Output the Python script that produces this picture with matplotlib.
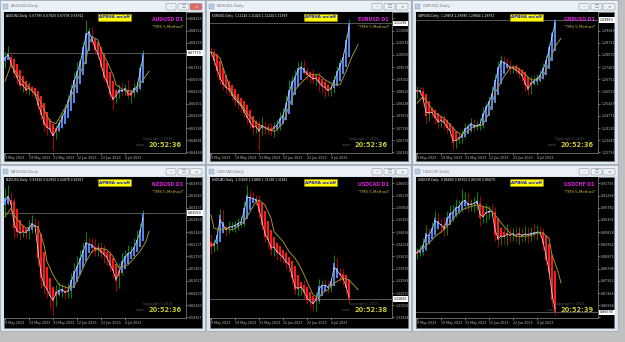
import numpy as np
import matplotlib
matplotlib.use("Agg")
import matplotlib.pyplot as plt
import matplotlib.transforms as mtransforms
from matplotlib.patches import Rectangle, FancyBboxPatch

PIP = 0.0001
date_labels = ["9 May 2023", "19 May 2023", "31 May 2023", "12 Jun 2023", "22 Jun 2023", "4 Jul 2023"]
date_label_bars = [0, 8, 16, 24, 32, 40]

# ---------------- AUDUSD ----------------
aud_open0 = 0.6739
aud_close = [0.6766, 0.6772, 0.6739, 0.6711, 0.6695, 0.6667, 0.6673, 0.6651, 0.6662, 0.6651,
             0.6640, 0.6601, 0.6574, 0.6541, 0.6530, 0.6524, 0.6502, 0.6530, 0.6546, 0.6568,
             0.6590, 0.6623, 0.6656, 0.6689, 0.6717, 0.6750, 0.6799, 0.6843, 0.6849, 0.6816,
             0.6788, 0.6772, 0.6733, 0.6695, 0.6678, 0.6640, 0.6623, 0.6640, 0.6656, 0.6651,
             0.6662, 0.6634, 0.6645, 0.6662, 0.6667, 0.6728, 0.6777]
aud_up = [15, 30, 8, 10, 12, 25, 10, 15, 20, 8, 12, 10, 15, 8, 20, 10, 12, 10, 15, 12, 20, 15, 18, 25,
          30, 12, 15, 44, 10, 15, 12, 10, 12, 8, 15, 10, 12, 18, 20, 22, 12, 25, 10, 15, 18, 12, 11]
aud_dn = [10, 8, 12, 15, 20, 10, 18, 10, 12, 15, 10, 12, 15, 20, 25, 12, 44, 10, 12, 15, 10, 12, 10, 8,
          12, 15, 10, 12, 15, 12, 10, 15, 12, 10, 12, 15, 33, 12, 10, 15, 12, 10, 20, 12, 15, 10, 8]
aud_ma_x = [0, 2, 5, 8, 11, 13, 15, 17, 19, 21, 23, 25, 27, 28, 29, 31, 32, 34, 36, 37, 39, 41, 43, 44, 46, 48]
aud_ma = [0.6684, 0.6739, 0.6695, 0.6662, 0.6634, 0.6590, 0.6552, 0.6544, 0.6579, 0.6612, 0.6656,
          0.6711, 0.6755, 0.6805, 0.6832, 0.6821, 0.6788, 0.6750, 0.6706, 0.6673, 0.6658, 0.6654,
          0.6651, 0.6665, 0.6689, 0.6717]
aud_ticks = [0.68925, 0.68521, 0.68119, 0.67715, 0.67311, 0.66909, 0.66505, 0.66101, 0.65699,
             0.65295, 0.64891, 0.64489]
aud_header = "0.67795 0.67920 0.67795 0.67912"

# ---------------- EURUSD ----------------
eur_open0 = 1.1025
eur_close = [1.1012, 1.0980, 1.0941, 1.0908, 1.0889, 1.0876, 1.0869, 1.0843, 1.0830, 1.0817,
             1.0804, 1.0778, 1.0759, 1.0739, 1.0720, 1.0726, 1.0713, 1.0733, 1.0720, 1.0713,
             1.0707, 1.0726, 1.0733, 1.0759, 1.0772, 1.0817, 1.0869, 1.0902, 1.0921, 1.0954,
             1.0960, 1.0941, 1.0928, 1.0921, 1.0908, 1.0915, 1.0895, 1.0882, 1.0876, 1.0863,
             1.0876, 1.0908, 1.0941, 1.0973, 1.0999, 1.1064, 1.1129]
eur_up = [12, 20, 15, 25, 18, 20, 15, 22, 15, 20, 18, 25, 20, 15, 18, 25, 20, 30, 15, 20, 25, 18, 20, 22,
          25, 30, 40, 20, 25, 22, 20, 25, 18, 15, 30, 20, 22, 15, 30, 20, 25, 18, 20, 15, 18, 20, 15]
eur_dn = [15, 18, 20, 15, 22, 18, 20, 15, 25, 18, 20, 15, 22, 18, 25, 20, 78, 20, 25, 15, 20, 22, 18, 20,
          15, 18, 20, 22, 25, 18, 20, 15, 22, 25, 18, 20, 30, 25, 35, 20, 18, 20, 15, 22, 18, 15, 12]
eur_ma_x = [0, 3, 5, 7, 9, 12, 14, 16, 18, 21, 22, 24, 26, 28, 31, 33, 36, 38, 41, 43, 45, 47, 49]
eur_ma = [1.1019, 1.0993, 1.0921, 1.0856, 1.0830, 1.0778, 1.0752, 1.0733, 1.0720, 1.0707, 1.0713,
          1.0739, 1.0804, 1.0869, 1.0908, 1.0928, 1.0928, 1.0908, 1.0889, 1.0889, 1.0941, 1.0999, 1.1045]
eur_ticks = [1.11485, 1.11008, 1.10532, 1.10055, 1.09578, 1.09102, 1.08625, 1.08148, 1.07672,
             1.07195, 1.06718, 1.06242]
eur_header = "1.11244 1.11420 1.11244 1.11399"

# ---------------- GBPUSD ----------------
gbp_open0 = 1.2600
gbp_close = [1.2618, 1.2609, 1.2564, 1.2474, 1.2501, 1.2492, 1.2465, 1.2438, 1.2456, 1.2438,
             1.2411, 1.2393, 1.2330, 1.2348, 1.2357, 1.2375, 1.2411, 1.2420, 1.2438, 1.2420,
             1.2424, 1.2434, 1.2492, 1.2528, 1.2555, 1.2600, 1.2672, 1.2744, 1.2780, 1.2762,
             1.2753, 1.2735, 1.2735, 1.2722, 1.2708, 1.2694, 1.2645, 1.2618, 1.2663, 1.2668,
             1.2681, 1.2699, 1.2735, 1.2780, 1.2852, 1.2924, 1.2995]
gbp_up = [20, 15, 25, 30, 20, 25, 18, 30, 20, 25, 20, 22, 30, 25, 20, 25, 30, 20, 25, 20, 25, 30, 35, 25,
          30, 40, 30, 30, 25, 20, 30, 25, 20, 25, 20, 30, 25, 20, 30, 25, 20, 25, 30, 25, 20, 15, 5]
gbp_dn = [25, 20, 30, 35, 25, 20, 30, 25, 20, 30, 25, 30, 30, 25, 20, 25, 20, 25, 30, 25, 20, 25, 20, 25,
          30, 25, 20, 25, 30, 20, 25, 30, 25, 20, 25, 30, 35, 30, 25, 20, 25, 20, 25, 20, 25, 20, 10]
gbp_ma_x = [0, 2, 4, 6, 9, 11, 13, 15, 18, 20, 22, 24, 26, 29, 31, 33, 35, 38, 40, 42, 44, 46, 48]
gbp_ma = [1.2546, 1.2582, 1.2537, 1.2492, 1.2465, 1.2429, 1.2393, 1.2375, 1.2411, 1.2420, 1.2429,
          1.2492, 1.2600, 1.2690, 1.2735, 1.2744, 1.2717, 1.2672, 1.2672, 1.2690, 1.2762, 1.2852, 1.2897]
gbp_ticks = [1.30050, 1.29389, 1.28731, 1.28070, 1.27409, 1.26751, 1.26090, 1.25429, 1.24771,
             1.24110, 1.23449, 1.22791]
gbp_header = "1.29874 1.29990 1.29804 1.29972"

# ---------------- NZDUSD ----------------
nzd_open0 = 0.6310
nzd_close = [0.6350, 0.6355, 0.6330, 0.6260, 0.6250, 0.6245, 0.6250, 0.6245, 0.6265, 0.6275,
             0.6265, 0.6170, 0.6110, 0.6085, 0.6075, 0.6055, 0.6045, 0.6070, 0.6072, 0.6078,
             0.6065, 0.6070, 0.6105, 0.6130, 0.6145, 0.6170, 0.6195, 0.6218, 0.6212, 0.6210,
             0.6195, 0.6200, 0.6185, 0.6180, 0.6170, 0.6145, 0.6130, 0.6100, 0.6135, 0.6160,
             0.6175, 0.6185, 0.6188, 0.6205, 0.6225, 0.6255, 0.6305]
nzd_up = [30, 35, 15, 20, 15, 12, 18, 15, 20, 25, 15, 20, 15, 12, 18, 10, 15, 20, 25, 15, 12, 25, 20, 25,
          30, 25, 20, 30, 15, 20, 18, 15, 20, 25, 15, 20, 15, 18, 20, 25, 20, 25, 20, 25, 30, 20, 10]
nzd_dn = [15, 20, 25, 30, 15, 20, 12, 15, 18, 20, 15, 25, 30, 20, 25, 35, 45, 20, 15, 20, 18, 15, 20, 25,
          15, 20, 18, 15, 20, 25, 18, 20, 15, 25, 20, 15, 20, 30, 20, 15, 18, 20, 15, 18, 12, 15, 10]
nzd_ma_x = [0, 2, 3, 5, 7, 9, 11, 13, 14, 16, 18, 21, 23, 25, 27, 29, 32, 34, 36, 38, 41, 43, 45, 47, 48]
nzd_ma = [0.6295, 0.6320, 0.6300, 0.6275, 0.6260, 0.6265, 0.6265, 0.6210, 0.6160, 0.6120, 0.6090,
          0.6080, 0.6085, 0.6120, 0.6160, 0.6190, 0.6200, 0.6195, 0.6175, 0.6140, 0.6150, 0.6170,
          0.6190, 0.6220, 0.6250]
nzd_ticks = [0.63950, 0.63583, 0.63217, 0.62850, 0.62483, 0.62117, 0.61750, 0.61383, 0.61017,
             0.60650, 0.60283, 0.59917]
nzd_header = "0.62920 0.62950 0.62878 0.62927"

# ---------------- USDCAD ----------------
cad_open0 = 1.3437
cad_close = [1.3403, 1.3410, 1.3452, 1.3536, 1.3480, 1.3473, 1.3487, 1.3487, 1.3494, 1.3501,
             1.3508, 1.3564, 1.3620, 1.3606, 1.3603, 1.3599, 1.3550, 1.3494, 1.3445, 1.3431,
             1.3389, 1.3403, 1.3375, 1.3368, 1.3354, 1.3333, 1.3326, 1.3270, 1.3221, 1.3228,
             1.3235, 1.3207, 1.3179, 1.3172, 1.3161, 1.3186, 1.3235, 1.3242, 1.3239, 1.3231,
             1.3256, 1.3333, 1.3291, 1.3284, 1.3263, 1.3228, 1.3182]
cad_up = [20, 25, 30, 25, 20, 15, 25, 20, 15, 20, 25, 30, 40, 20, 25, 15, 20, 25, 15, 20, 25, 30, 20, 25,
          20, 30, 25, 20, 25, 30, 20, 25, 20, 25, 20, 25, 30, 20, 25, 20, 20, 35, 25, 20, 25, 20, 10]
cad_dn = [30, 25, 20, 15, 20, 25, 15, 20, 25, 20, 15, 20, 15, 20, 15, 20, 25, 20, 25, 30, 20, 25, 30, 25,
          20, 25, 30, 25, 20, 25, 30, 25, 20, 25, 30, 30, 20, 25, 20, 25, 20, 15, 20, 25, 20, 25, 15]
cad_ma_x = [0, 1, 3, 5, 7, 9, 11, 13, 15, 16, 18, 20, 21, 24, 26, 28, 30, 32, 34, 36, 37, 39, 41, 44, 46, 49]
cad_ma = [1.3536, 1.3480, 1.3473, 1.3480, 1.3473, 1.3487, 1.3508, 1.3550, 1.3592, 1.3599, 1.3578,
          1.3522, 1.3466, 1.3424, 1.3382, 1.3354, 1.3312, 1.3256, 1.3200, 1.3186, 1.3207, 1.3221,
          1.3249, 1.3270, 1.3263, 1.3221]
cad_ticks = [1.36690, 1.36176, 1.35664, 1.35150, 1.34636, 1.34124, 1.33610, 1.33096, 1.32584,
             1.32070, 1.31556, 1.31044]
cad_header = "1.31828 1.31880 1.31748 1.31841"

# ---------------- USDCHF ----------------
chf_open0 = 0.8896
chf_close = [0.8904, 0.8914, 0.8933, 0.8979, 0.8972, 0.8998, 0.9037, 0.9014, 0.9011, 0.8992,
             0.9040, 0.9057, 0.9063, 0.9079, 0.9083, 0.9102, 0.9109, 0.9086, 0.9092, 0.9096,
             0.9105, 0.9037, 0.9044, 0.9063, 0.9066, 0.9060, 0.8972, 0.8953, 0.8972, 0.8962,
             0.8979, 0.8969, 0.8975, 0.8968, 0.8979, 0.8969, 0.8976, 0.8972, 0.8981, 0.8975,
             0.8985, 0.8982, 0.8936, 0.8875, 0.8823, 0.8719, 0.8669]
chf_up = [15, 20, 25, 30, 20, 25, 30, 20, 25, 30, 25, 30, 25, 35, 25, 50, 30, 25, 20, 25, 35, 20, 25, 30,
          20, 25, 20, 25, 30, 25, 35, 20, 25, 30, 25, 20, 30, 25, 20, 35, 25, 20, 15, 20, 15, 10, 10]
chf_dn = [20, 15, 20, 25, 30, 20, 25, 20, 30, 25, 20, 25, 30, 20, 25, 20, 30, 25, 20, 30, 25, 30, 20, 25,
          30, 20, 25, 30, 20, 25, 30, 25, 20, 25, 30, 25, 20, 30, 25, 20, 25, 20, 25, 20, 25, 30, 10]
chf_ma_x = [0, 2, 4, 6, 9, 11, 13, 15, 18, 20, 22, 24, 26, 29, 31, 33, 35, 38, 40, 42, 44, 45, 47, 48]
chf_ma = [0.8907, 0.8920, 0.8940, 0.8966, 0.8992, 0.9018, 0.9050, 0.9070, 0.9083, 0.9089, 0.9083,
          0.9076, 0.9050, 0.9005, 0.8979, 0.8966, 0.8966, 0.8969, 0.8979, 0.8979, 0.8959, 0.8894,
          0.8829, 0.8784]
chf_ticks = [0.91735, 0.91258, 0.90782, 0.90305, 0.89828, 0.89352, 0.88875, 0.88398, 0.87922,
             0.87445, 0.86968, 0.86492]
chf_header = "0.86689 0.86702 0.86590 0.86679"

clock_labels = ["20:52:36", "20:52:36", "20:52:36", "20:52:36", "20:52:38", "20:52:39"]

panels = [
    dict(sym="AUDUSD", open0=aud_open0, close=aud_close, up=aud_up, dn=aud_dn, ma_x=aud_ma_x, ma=aud_ma,
         ticks=aud_ticks, ylim=(0.64470, 0.69134), header=aud_header, clock=clock_labels[0]),
    dict(sym="EURUSD", open0=eur_open0, close=eur_close, up=eur_up, dn=eur_dn, ma_x=eur_ma_x, ma=eur_ma,
         ticks=eur_ticks, ylim=(1.06220, 1.11732), header=eur_header, clock=clock_labels[1]),
    dict(sym="GBPUSD", open0=gbp_open0, close=gbp_close, up=gbp_up, dn=gbp_dn, ma_x=gbp_ma_x, ma=gbp_ma,
         ticks=gbp_ticks, ylim=(1.22760, 1.30392), header=gbp_header, clock=clock_labels[2]),
    dict(sym="NZDUSD", open0=nzd_open0, close=nzd_close, up=nzd_up, dn=nzd_dn, ma_x=nzd_ma_x, ma=nzd_ma,
         ticks=nzd_ticks, ylim=(0.59900, 0.64140), header=nzd_header, clock=clock_labels[3]),
    dict(sym="USDCAD", open0=cad_open0, close=cad_close, up=cad_up, dn=cad_dn, ma_x=cad_ma_x, ma=cad_ma,
         ticks=cad_ticks, ylim=(1.31020, 1.36956), header=cad_header, clock=clock_labels[4]),
    dict(sym="USDCHF", open0=chf_open0, close=chf_close, up=chf_up, dn=chf_dn, ma_x=chf_ma_x, ma=chf_ma,
         ticks=chf_ticks, ylim=(0.86470, 0.91982), header=chf_header, clock=clock_labels[5]),
]

# window layout in pixels (x, y, w, h)
windows = [(0, 0, 205, 164), (206, 0, 205, 164), (412, 0, 206, 164),
           (0, 165, 205, 166), (206, 165, 205, 166), (412, 165, 206, 166)]

W, H = 625, 342
fig = plt.figure(figsize=(W / 100, H / 100), dpi=100)
fig.patch.set_facecolor('#c0c0c0')


def fig_rect(x, y, w, h):
    return [x / W, 1 - (y + h) / H, w / W, h / H]


bg = fig.add_axes([0, 0, 1, 1], zorder=0)
bg.set_xlim(0, W); bg.set_ylim(H, 0); bg.axis('off')
fg = fig.add_axes([0, 0, 1, 1], zorder=10)
fg.set_xlim(0, W); fg.set_ylim(H, 0); fg.axis('off')

BLUE = '#5283e6'
RED = '#ff1a1a'
GREEN = '#00a400'
WRED = '#cc0000'
MA_COL = '#a08e34'
AX_H = 141

for k, (p, win) in enumerate(zip(panels, windows)):
    wx, wy, ww, wh = win
    # window chrome
    bg.add_patch(Rectangle((wx, wy), ww, wh, facecolor='#dde5ee', edgecolor='#9aa6b3', lw=0.5))
    bg.add_patch(Rectangle((wx + 1, wy + 1), ww - 2, 10, facecolor='#eaf0f6', edgecolor='none'))
    bx, by = wx + 4, wy + 12
    bg.add_patch(Rectangle((bx, by), 198, wh - 15, facecolor='black', edgecolor='#707070', lw=0.4))
    fg.add_patch(Rectangle((wx + 3, wy + 3.5), 5, 5, facecolor='#b7cde3', edgecolor='#7d9cbc', lw=0.3))
    fg.text(wx + 11, wy + 6.5, f"{p['sym']},Daily", fontsize=2.8, color='#7a7a7a', va='center', ha='left')
    for j, (dx, bw, glyph) in enumerate([(39, 10, '‒'), (27, 11, '□'), (15, 12, '×')]):
        fc = '#e06868' if (j == 2 and k == 0) else '#eef2f6'
        fg.add_patch(FancyBboxPatch((wx + ww - dx, wy + 3.5), bw, 6.5,
                                    boxstyle='round,pad=0,rounding_size=1.2',
                                    fc=fc, ec='#8c98a5', lw=0.4))
        fg.text(wx + ww - dx + bw / 2, wy + 6.8, glyph, fontsize=3, ha='center', va='center',
                color='white' if (j == 2 and k == 0) else '#505a66')

    # price chart
    ax = fig.add_axes(fig_rect(bx, by, 182, AX_H), zorder=1)
    ax.set_facecolor('black')
    c = np.array(p['close'])
    n = len(c)
    o = np.concatenate([[p['open0']], c[:-1]])
    h = np.maximum(o, c) + np.array(p['up']) * PIP
    l = np.minimum(o, c) - np.array(p['dn']) * PIP
    # Heiken Ashi
    ha_c = (o + h + l + c) / 4
    ha_o = np.empty(n)
    ha_o[0] = (o[0] + c[0]) / 2
    for i in range(1, n):
        ha_o[i] = (ha_o[i - 1] + ha_c[i - 1]) / 2
    bull = ha_c >= ha_o
    x = np.arange(n)
    yr = p['ylim'][1] - p['ylim'][0]
    ax.vlines(x, l, h, colors=np.where(c >= o, GREEN, WRED), lw=0.6, zorder=2)
    top = np.maximum(np.maximum(ha_o, ha_c), c)
    bottom = np.minimum(np.minimum(ha_o, ha_c), c)
    height = np.maximum(top - bottom, yr * 0.008)
    ax.bar(x, height, bottom=bottom, width=0.9, color=np.where(bull, BLUE, RED), lw=0, zorder=3)
    ax.plot(x, (ha_c + c) / 2, color='#e6ecff', lw=0.55, alpha=0.85, zorder=4)
    ax.plot(p['ma_x'], p['ma'], color=MA_COL, lw=0.7, zorder=4)
    ax.axhline(c[-1], color='#7a7a7a', lw=0.5, zorder=1)

    ax.set_xlim(-1 / 3, -1 / 3 + 182 / 3)
    ax.set_ylim(*p['ylim'])
    for s in ['top', 'left']:
        ax.spines[s].set_visible(False)
    for s in ['right', 'bottom']:
        ax.spines[s].set_color('#8a8a8a')
        ax.spines[s].set_linewidth(0.5)
    ax.yaxis.tick_right()
    ax.set_yticks(p['ticks'])
    near = yr * 5.5 / AX_H
    ax.set_yticklabels(["" if abs(t - c[-1]) < near else f"{t:.5f}" for t in p['ticks']])
    ax.set_xticks(date_label_bars)
    ax.set_xticklabels(date_labels, ha='left')
    ax.tick_params(axis='y', length=1.5, width=0.4, colors='#bdbdbd', labelsize=2.3, pad=0.8)
    ax.tick_params(axis='x', length=1.5, width=0.4, colors='#bdbdbd', labelsize=2.3, pad=0.6)
    trans = mtransforms.blended_transform_factory(ax.transAxes, ax.transData)
    ax.text(1.012, c[-1], f"{c[-1]:.5f}", transform=trans, ha='left', va='center', fontsize=2.3,
            color='black', zorder=6,
            bbox=dict(facecolor='white', edgecolor='none', boxstyle='square,pad=0.25'))

    # overlay texts
    fg.text(bx + 2, by + 3.5, f"{p['sym']},Daily  {p['header']}", fontsize=2.2, color='white',
            ha='left', va='center')
    fg.text(bx + 110.5, by + 5.5, "APBHA on/off", fontsize=3.0, color='#1a1ad0', weight='bold',
            ha='center', va='center',
            bbox=dict(facecolor='#ffff00', edgecolor='#b08a00', lw=0.4, boxstyle='square,pad=0.3'))
    fg.text(bx + 179, by + 7.5, f"{p['sym']} D1", fontsize=3.4, color='#e020e0', weight='bold',
            ha='right', va='center')
    fg.text(bx + 179, by + 15, '"TMS 5-Method"', fontsize=2.8, color='#c8b43c', ha='right', va='center')
    fg.text(bx + 154, by + 127, "Copyright©2015", fontsize=2.6, color='#555555', ha='center', va='center')
    fg.text(bx + 141, by + 133, "www", fontsize=2.6, color='#555555', ha='right', va='center')
    fg.text(bx + 178, by + 133, p['clock'], fontsize=4.8, color='#c8c83c', weight='bold',
            ha='right', va='center')

fig.savefig('out.png', dpi=100, facecolor=fig.get_facecolor())
